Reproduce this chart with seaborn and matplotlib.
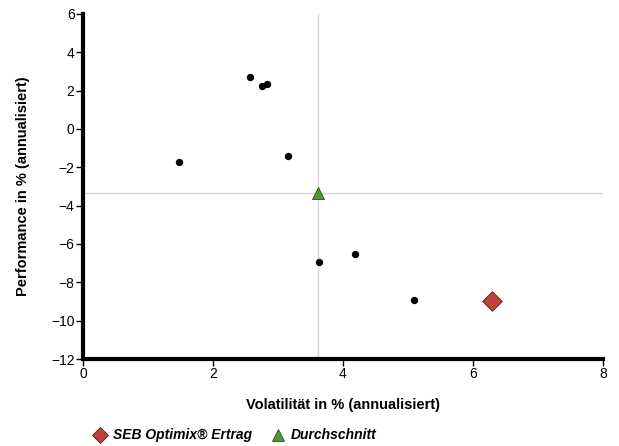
import numpy as np
import pandas as pd
import matplotlib
matplotlib.use("Agg")
import matplotlib.pyplot as plt
from matplotlib.lines import Line2D
import seaborn as sns

# ---- data ----
peer_vol = [1.48, 2.57, 2.75, 2.83, 3.15, 3.63, 4.19, 5.09]
peer_perf = [-1.72, 2.68, 2.25, 2.35, -1.43, -6.93, -6.54, -8.90]

fund_name = "SEB Optimix® Ertrag"
fund_vol = [6.30]
fund_perf = [-8.97]

avg_name = "Durchschnitt"
avg_vol = [3.62]
avg_perf = [-3.35]

x_ticks = [0, 2, 4, 6, 8]
y_ticks = [-12, -10, -8, -6, -4, -2, 0, 2, 4, 6]

sns.set_style("ticks")
plt.rcParams["font.family"] = ["Liberation Sans", "DejaVu Sans"]
plt.rcParams["text.color"] = "black"
plt.rcParams["axes.labelcolor"] = "black"
plt.rcParams["xtick.color"] = "black"
plt.rcParams["ytick.color"] = "black"

fig = plt.figure(figsize=(6.19, 4.46), dpi=100)
ax = fig.add_axes([0.134, 0.195, 0.840, 0.774])

peers = pd.DataFrame({"vol": peer_vol, "perf": peer_perf})

# average cross-hair lines
ax.axvline(avg_vol[0], color="#d4d4d4", linewidth=1, zorder=1)
ax.axhline(avg_perf[0], color="#d4d4d4", linewidth=1, zorder=1)

sns.scatterplot(data=peers, x="vol", y="perf", color="black", s=28,
                edgecolor="black", linewidth=0, ax=ax, zorder=3)
sns.scatterplot(x=fund_vol, y=fund_perf, marker="D", color="#c0403a",
                edgecolor="#5a1c18", linewidth=0.6, s=100, ax=ax, zorder=4)
sns.scatterplot(x=avg_vol, y=avg_perf, marker="^", color="#4e9a2e",
                edgecolor="#2c4a1c", linewidth=0.6, s=75, ax=ax, zorder=4)

ax.set_xlim(0, 8)
ax.set_ylim(-12, 6)
ax.set_xticks(x_ticks)
ax.set_yticks(y_ticks)
ax.set_xticklabels([str(t) for t in x_ticks])
ax.set_yticklabels([str(t).replace("-", "\u2212") for t in y_ticks])
ax.tick_params(axis="both", labelsize=10, width=1, length=5, color="black",
               pad=1)

for side in ["top", "right"]:
    ax.spines[side].set_visible(False)
for side in ["left", "bottom"]:
    ax.spines[side].set_linewidth(3)
    ax.spines[side].set_color("black")

ax.set_xlabel("Volatilität in % (annualisiert)", fontsize=10.5,
              fontweight="bold", labelpad=12)
ax.set_ylabel("Performance in % (annualisiert)", fontsize=10.5,
              fontweight="bold", labelpad=15)

handles = [
    Line2D([], [], marker="D", linestyle="none", markersize=8,
           markerfacecolor="#c0403a", markeredgecolor="#5a1c18",
           markeredgewidth=0.6),
    Line2D([], [], marker="^", linestyle="none", markersize=9,
           markerfacecolor="#4e9a2e", markeredgecolor="#2c4a1c",
           markeredgewidth=0.6),
]
fig.legend(handles, [fund_name, avg_name], loc="lower left",
           bbox_to_anchor=(0.128, -0.02), ncol=2, frameon=False,
           prop={"size": 10, "weight": "bold", "style": "italic"},
           handletextpad=0.3, columnspacing=1.3, handlelength=1.2)

plt.savefig("out.png", dpi=100)
plt.close()
